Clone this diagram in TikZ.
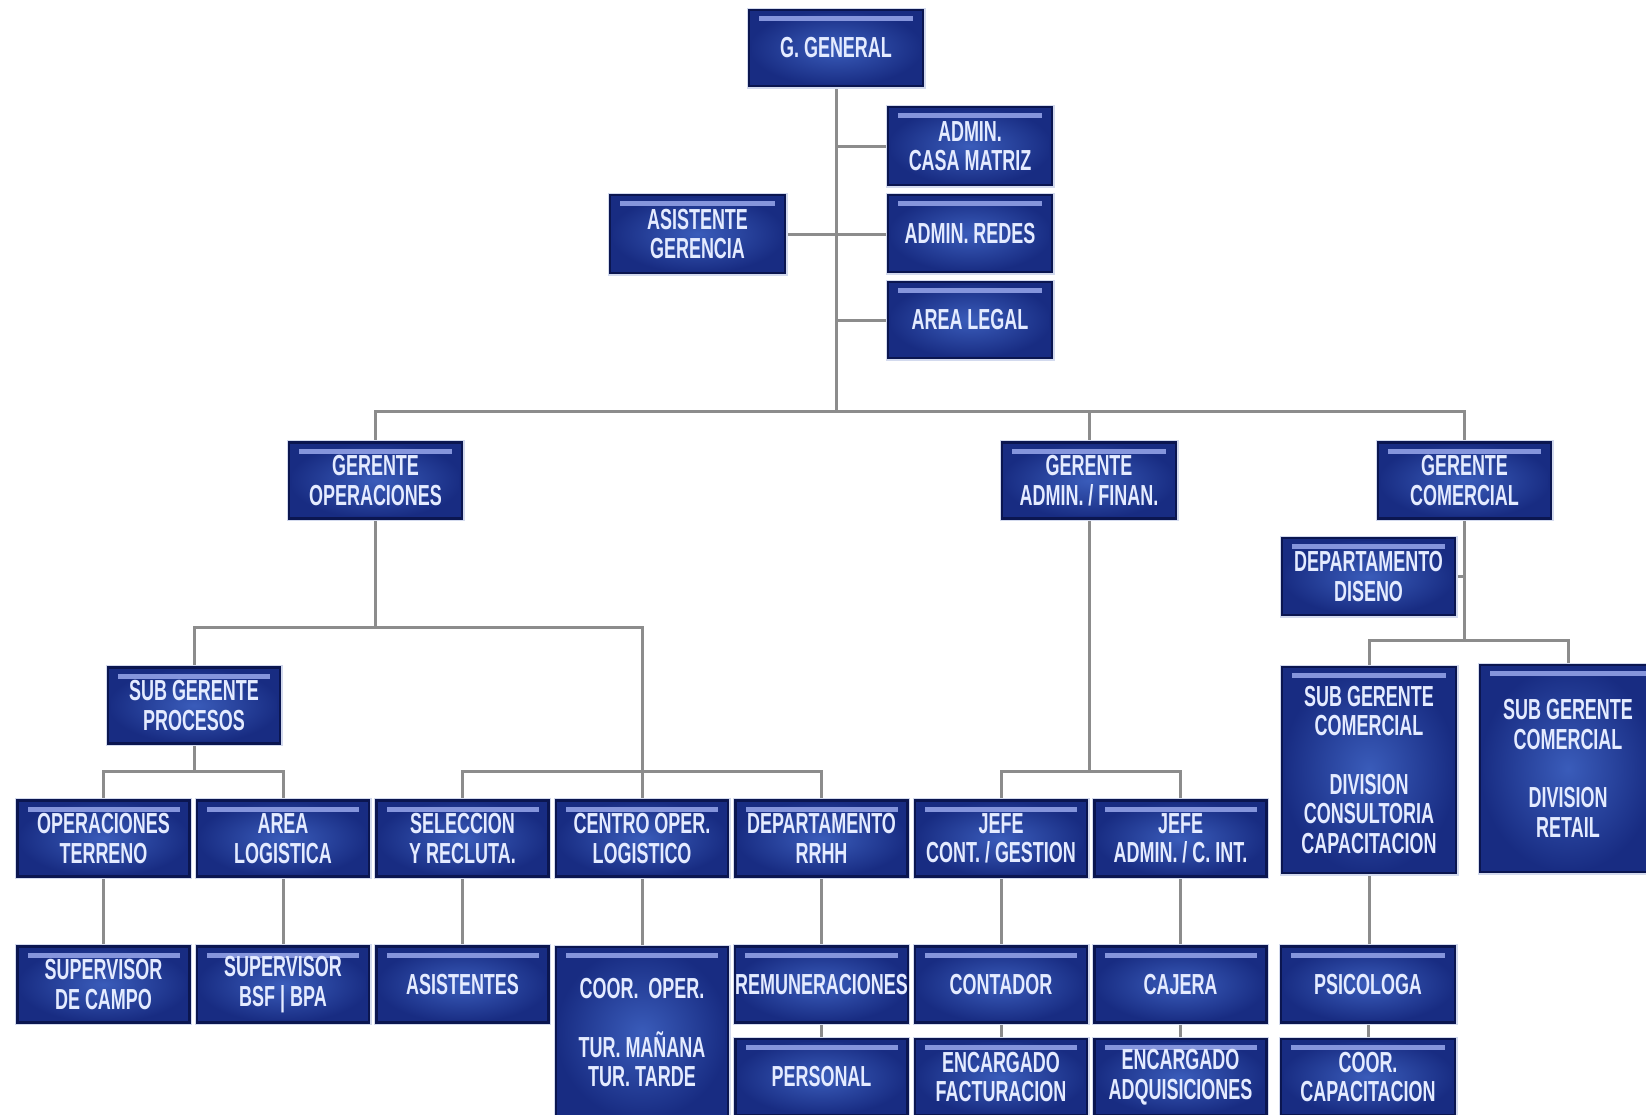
\documentclass[tikz,border=0pt]{standalone}
\usepackage{fontspec}
\newfontfamily\boxfam[FakeStretch=0.62]{Liberation Sans}
\usetikzlibrary{calc,backgrounds}
\definecolor{bdark}{HTML}{0B1650}
\definecolor{bdeep}{HTML}{182C82}
\definecolor{bmid}{HTML}{3A5CBA}
\definecolor{bstripe}{HTML}{8595DC}
\definecolor{bglow}{HTML}{D3DAEE}
\definecolor{btext}{HTML}{E4EBFF}
\definecolor{conn}{HTML}{8C8C8C}
\tikzset{
  orgbox/.style={rectangle, minimum width=172pt, minimum height=76pt, inner sep=0pt,
    fill=bdeep, draw=bdark, line width=2.5pt,
    preaction={draw=bglow, line width=5pt},
    text=btext, align=center,
    font=\boxfam\bfseries\fontsize{29}{29.5}\selectfont,
    path picture={
      \fill[inner color=bmid, outer color=bdeep]
        ($(path picture bounding box.north west)+(3pt,-3pt)$) rectangle
        ($(path picture bounding box.south east)+(-3pt,3pt)$);
      \fill[bstripe]
        ($(path picture bounding box.north west)+(10pt,-6pt)$) rectangle
        ($(path picture bounding box.north east)+(-10pt,-11pt)$);
    }},
  link/.style={draw=conn, line width=3pt}
}
\begin{document}
\begin{tikzpicture}[x=1pt,y=-1pt]
\useasboundingbox (0,0) rectangle (1646,1114);
\clip (0,0) rectangle (1646,1114);
% top
\node[orgbox, minimum width=174pt] (ggen) at (836,48) {G. GENERAL};
\node[orgbox, minimum width=164pt, minimum height=78pt] (casa) at (970,146) {ADMIN.\\CASA MATRIZ};
\node[orgbox, minimum width=175pt, minimum height=78pt] (asis) at (697.5,234) {ASISTENTE\\GERENCIA};
\node[orgbox, minimum width=164pt, minimum height=77pt] (redes) at (970,233.5) {ADMIN. REDES};
\node[orgbox, minimum width=164pt, minimum height=76pt] (legal) at (970,320) {AREA LEGAL};
% managers
\node[orgbox, minimum width=173pt] (opsG) at (375.5,480.5) {GERENTE\\OPERACIONES};
\node[orgbox, minimum width=174pt] (admG) at (1089,480.5) {GERENTE\\ADMIN. / FINAN.};
\node[orgbox, minimum width=173pt] (comG) at (1464.5,480.5) {GERENTE\\COMERCIAL};
\node[orgbox, minimum width=173pt, minimum height=77pt] (dis) at (1368.5,576.5) {DEPARTAMENTO\\DISENO};
\node[orgbox] (subproc) at (194,705.5) {SUB GERENTE\\PROCESOS};
\node[orgbox, minimum width=174pt, minimum height=206pt] (sc1) at (1369,770) {SUB GERENTE\\COMERCIAL\\[29pt]DIVISION\\CONSULTORIA\\CAPACITACION};
\node[orgbox, minimum width=176pt, minimum height=207pt] (sc2) at (1568,768.5) {SUB GERENTE\\COMERCIAL\\[29pt]DIVISION\\RETAIL};
% row 3
\node[orgbox] (opter) at (103.5,838.5) {OPERACIONES\\TERRENO};
\node[orgbox] (alog) at (283,838.5) {AREA\\LOGISTICA};
\node[orgbox] (selec) at (462.5,838.5) {SELECCION\\Y RECLUTA.};
\node[orgbox] (centro) at (642,838.5) {CENTRO OPER.\\LOGISTICO};
\node[orgbox] (rrhh) at (821.5,838.5) {DEPARTAMENTO\\RRHH};
\node[orgbox] (jcont) at (1001,838.5) {JEFE\\CONT. / GESTION};
\node[orgbox] (jadm) at (1180.5,838.5) {JEFE\\ADMIN. / C. INT.};
% row 4
\node[orgbox] (supc) at (103.5,984.5) {SUPERVISOR\\DE CAMPO};
\node[orgbox] (supb) at (283,984.5) {SUPERVISOR\\BSF | BPA};
\node[orgbox] (asist) at (462.5,984.5) {ASISTENTES};
\node[orgbox, minimum height=172pt] (coor) at (642,1033) {COOR.\ \ OPER.\\[29pt]TUR. MAÑANA\\TUR. TARDE};
\node[orgbox] (remun) at (821.5,984.5) {REMUNERACIONES};
\node[orgbox] (conta) at (1001,984.5) {CONTADOR};
\node[orgbox] (caj) at (1180.5,984.5) {CAJERA};
\node[orgbox, minimum width=174pt] (psico) at (1368,984.5) {PSICOLOGA};
% row 5
\node[orgbox] (pers) at (821.5,1077) {PERSONAL};
\node[orgbox] (efact) at (1001,1077) {ENCARGADO\\FACTURACION};
\node[orgbox] (eadq) at (1180.5,1077) {ENCARGADO\\ADQUISICIONES};
\node[orgbox, minimum width=174pt] (ccap) at (1368,1077) {COOR.\\CAPACITACION};
% connectors
\begin{scope}[on background layer]
\fill[white] (0,0) rectangle (1646,1114);
\coordinate (bus1) at (836,411);
\coordinate (bus2) at (380,627);
\coordinate (bus3) at (0,771);
\coordinate (bus5) at (0,640);
\path[link] (ggen.south) -- (ggen.south |- bus1);
\path[link] (casa.west) -- (casa.west -| ggen.south);
\path[link] (asis.east) -- (asis.east -| redes.west);
\path[link] (legal.west) -- (legal.west -| ggen.south);
\path[link] (opsG.north) -- (opsG.north |- bus1) -- (comG.north |- bus1) -- (comG.north);
\path[link] (admG.north) -- (admG.north |- bus1);
\path[link] (opsG.south) -- (opsG.south |- bus2);
\path[link] (subproc.north) -- (subproc.north |- bus2) -- (centro.north |- bus2) -- (centro.north);
\path[link] (selec.north) -- (selec.north |- bus3) -- (rrhh.north |- bus3) -- (rrhh.north);
\path[link] (subproc.south) -- (subproc.south |- bus3);
\path[link] (opter.north) -- (opter.north |- bus3) -- (alog.north |- bus3) -- (alog.north);
\path[link] (admG.south) -- (admG.south |- bus3);
\path[link] (jcont.north) -- (jcont.north |- bus3) -- (jadm.north |- bus3) -- (jadm.north);
\path[link] (comG.south) -- (comG.south |- bus5);
\path[link] (dis.east) -- (dis.east -| comG.south);
\path[link] (sc1.north) -- (sc1.north |- bus5) -- (sc2.north |- bus5) -- (sc2.north);
\path[link] (opter) -- (supc);
\path[link] (alog) -- (supb);
\path[link] (selec) -- (asist);
\path[link] (centro) -- (coor.north);
\path[link] (rrhh) -- (remun);
\path[link] (jcont) -- (conta);
\path[link] (jadm) -- (caj);
\path[link] (sc1.south) -- (sc1.south |- psico.north);
\path[link] (remun) -- (pers);
\path[link] (conta) -- (efact);
\path[link] (caj) -- (eadq);
\path[link] (psico) -- (ccap);
\end{scope}
\end{tikzpicture}
\end{document}
